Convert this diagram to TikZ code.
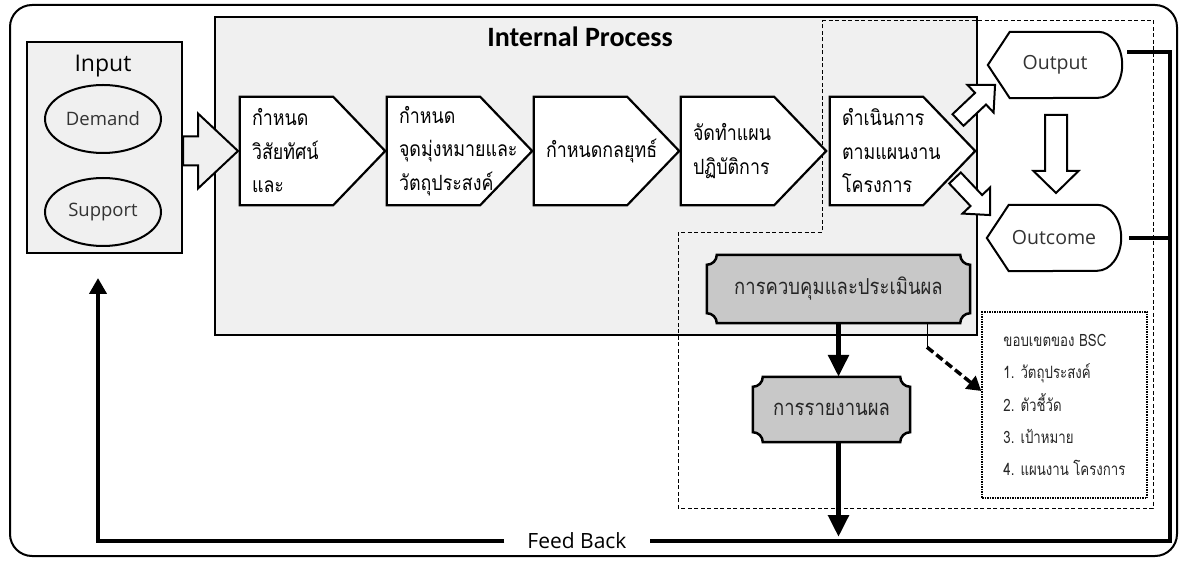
\documentclass[tikz,border=0pt]{standalone}
\usepackage{fontspec}
\usetikzlibrary{arrows.meta,positioning,calc,shapes.geometric}
\newfontfamily\thaifont[Script=Thai,FakeStretch=0.85]{Loma}
\newfontfamily\thaithin[Script=Thai,FakeStretch=0.84]{Loma}
\newfontfamily\bscfont[Script=Thai,FakeStretch=0.78]{Loma}
\newfontfamily\latinfont{Open Sans}
\newfontfamily\titlefont{Carlito}
\definecolor{panel}{HTML}{F0F0F0}
\definecolor{plaquegray}{HTML}{C8C8C8}
\pgfdeclarelayer{front}
\pgfsetlayers{main,front}

% block arrow: style, tail, angle, length, shaft half width, head half width, head length
\newcommand\blockarrow[7]{%
  \draw[#1, shift={#2}, rotate=#3]
    (0,-#5) -- (#4-#7,-#5) -- (#4-#7,-#6) -- (#4,0)
    -- (#4-#7,#6) -- (#4-#7,#5) -- (0,#5) -- cycle;}
% plaque outline round a named node
\newcommand\plaqueshape[1]{%
  \draw[plaqueline] ([xshift=10pt]#1.north west) -- ([xshift=-10pt]#1.north east)
    arc[start angle=180, end angle=270, radius=10pt] -- ([yshift=10pt]#1.south east)
    arc[start angle=90, end angle=180, radius=10pt] -- ([xshift=10pt]#1.south west)
    arc[start angle=0, end angle=90, radius=10pt] -- ([yshift=-10pt]#1.north west)
    arc[start angle=270, end angle=360, radius=10pt] -- cycle;}
% output/outcome outline round a named node
\newcommand\resultshape[1]{%
  \draw[blk] (#1.west) -- ([xshift=22pt]#1.north west) -- ([xshift=-24pt]#1.north east)
    arc[start angle=90, end angle=-90, x radius=24pt, y radius=33pt]
    -- ([xshift=22pt]#1.south west) -- cycle;}

\begin{document}
\begin{tikzpicture}[x=1pt, y=1pt,
  box/.style={draw, line width=2pt},
  chev/.style={minimum width=145pt, minimum height=108pt, text width=121pt,
    inner xsep=12pt, inner ysep=0pt, align=left,
    font=\thaifont\fontsize{21}{33.5}\selectfont},
  chevline/.style={draw, fill=white, line width=2.2pt, line join=miter},
  blk/.style={draw, fill=white, line width=2pt, line join=miter},
  oval/.style={ellipse, draw, line width=2pt, minimum width=116pt, minimum height=68pt,
    text=black!80, font=\latinfont\fontsize{18.5}{22}\selectfont},
  endbox/.style={minimum width=134pt, minimum height=66pt, inner sep=0pt,
    text=black!80, font=\latinfont\fontsize{19.5}{24}\selectfont},
  plaque/.style={inner sep=0pt, text=black!85, font=\thaithin\fontsize{22}{26}\selectfont},
  plaqueline/.style={draw, fill=plaquegray, line width=2.5pt},
  fbline/.style={line width=4.5pt},
  bigarr/.style={line width=5.5pt, -{Triangle[width=20pt,length=22pt]}},
]
\useasboundingbox (0,0) rectangle (1180,560);
% Frame
\draw[line width=2pt, rounded corners=22pt] (10,4) rectangle (1177,555);
% Internal process panel
\node[box, fill=panel, minimum width=762pt, minimum height=318pt, inner sep=0pt] (ip) at (596,384) {};
\node[font=\titlefont\bfseries\fontsize{28}{32}\selectfont] (iptitle) at (580,523) {Internal Process};
% Input
\node[box, fill=panel, minimum width=155pt, minimum height=211pt, inner sep=0pt] (inbox) at (104.5,412.5) {};
\node[font=\latinfont\fontsize{23}{28}\selectfont] (inlbl) at (103,494) {Input};
\node[oval] (dem) at (103,441) {Demand};
\node[oval] (sup) at (103,348) {Support};
% Steps
\begin{pgfonlayer}{front}
\node[chev] (c1) at (312.5,409) {กำหนด\\วิสัยทัศน์\\และ};
\node[chev] (c2) at (459.5,409) {กำหนด\\จุดมุ่งหมายและ\\วัตถุประสงค์};
\node[chev] (c3) at (606.5,409) {กำหนดกลยุทธ์};
\node[chev] (c4) at (753.5,409) {จัดทำแผน\\ปฏิบัติการ};
\node[chev] (c5) at (902.5,409) {ดำเนินการ\\ตามแผนงาน\\โครงการ};
\node[endbox] (out) at (1055,495) {Output};
\node[endbox] (oc) at (1054,322) {Outcome};
\node[plaque, minimum width=263pt, minimum height=68pt] (ctrl) at (838.5,271) {การควบคุมและประเมินผล};
\node[plaque, minimum width=157pt, minimum height=65pt] (rep) at (831.5,150.5) {การรายงานผล};
\end{pgfonlayer}
\blockarrow{blk, fill=panel}{(inbox.east |- c1)}{0}{55}{14.5}{37.5}{40}
% BSC scope
\draw[dash pattern=on 4pt off 2.5pt, line width=0.8pt]
  (822,540) -- (1153,540) -- (1153,52) -- (678,52) -- (678,328) -- (822,328) -- cycle;
\foreach \c in {c1,c2,c3,c4,c5}
  \draw[chevline] (\c.north west) -- ([xshift=-52pt]\c.north east) -- (\c.east)
    -- ([xshift=-52pt]\c.south east) -- (\c.south west) -- cycle;
% Results
\resultshape{out}
\resultshape{oc}
\blockarrow{blk}{(958,440)}{43.4}{51}{8}{19}{20}
\blockarrow{blk}{(955,382)}{-46.6}{51}{8}{19}{20}
\blockarrow{blk}{(1056,445)}{-90}{78}{11}{22.5}{22}
% Control and report
\plaqueshape{ctrl}
\plaqueshape{rep}
\draw[bigarr] (ctrl.south) -- (ctrl.south |- rep.north);
\node[draw, densely dotted, line width=1.5pt, minimum width=165pt, minimum height=186pt,
  align=left, text=black!85, font=\bscfont\fontsize{17}{32.3}\selectfont] (bsc) at (1064.5,155)
  {ขอบเขตของ BSC\\1. วัตถุประสงค์\\2. ตัวชี้วัด\\3. เป้าหมาย\\4. แผนงาน โครงการ};
\draw[line width=0.8pt] ([xshift=88.5pt]ctrl.south) -- ++(0,-24) coordinate (dk);
\draw[line width=3.5pt, dash pattern=on 8pt off 4pt, -{Triangle[width=16pt,length=14pt]}]
  (dk) -- ([yshift=14pt]bsc.west);
% Feed back loop
\coordinate (rail) at (1170,19);
\coordinate (fbtip) at (98,282);
\node[font=\latinfont\fontsize{21}{26}\selectfont, inner xsep=23pt] (fb) at (577,19) {Feed Back};
\draw[fbline] ([shift={(5pt,13pt)}]out.east) -| (rail) -- (fb.east);
\draw[fbline] ([xshift=8pt]oc.east) -- (oc.east -| rail);
\draw[fbline, -{Triangle[width=17pt,length=16pt]}] (fb.west) -| (fbtip);
\draw[bigarr, shorten >=4pt] (rep.south -| ctrl) -- (rail -| ctrl);
\end{tikzpicture}
\end{document}
